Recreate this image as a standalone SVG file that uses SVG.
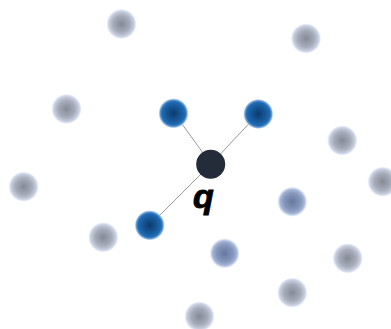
<svg xmlns="http://www.w3.org/2000/svg" width="391" height="329" viewBox="0 0 391 329">
<defs>
<radialGradient id="gGray" cx="50%" cy="50%" r="50%">
<stop offset="0" stop-color="#858a96"/>
<stop offset="0.55" stop-color="#a5abb9"/>
<stop offset="0.8" stop-color="#c3c9d7"/>
<stop offset="0.9" stop-color="#d3dcf0"/>
<stop offset="1" stop-color="#eaf0fa" stop-opacity="0.4"/>
</radialGradient>
<radialGradient id="gBlueGray" cx="50%" cy="50%" r="50%">
<stop offset="0" stop-color="#66789c"/>
<stop offset="0.55" stop-color="#8496bc"/>
<stop offset="0.8" stop-color="#a3b3d3"/>
<stop offset="0.9" stop-color="#ccd8ee"/>
<stop offset="1" stop-color="#eef2fa" stop-opacity="0.4"/>
</radialGradient>
<radialGradient id="gBlue" cx="50%" cy="50%" r="50%">
<stop offset="0" stop-color="#0c3b6a"/>
<stop offset="0.5" stop-color="#16589a"/>
<stop offset="0.78" stop-color="#1f6cb4"/>
<stop offset="0.9" stop-color="#6a9fd6"/>
<stop offset="1" stop-color="#d4e4f5" stop-opacity="0.4"/>
</radialGradient>
<style>
.gray{fill:url(#gGray)}
.bg{fill:url(#gBlueGray)}
.blue{fill:url(#gBlue)}
.q{fill:#252c39}
.edge{stroke:#999999;stroke-width:1;fill:none}
.lbl{font-family:"Liberation Sans",Arial,sans-serif;font-weight:bold;font-style:italic;font-size:34px;fill:#000;stroke:#000;stroke-width:0.9}
</style>
</defs>
<rect width="391" height="329" fill="#ffffff"/>
<g id="connectors">
<line class="edge" x1="174" y1="113" x2="211" y2="164"/>
<line class="edge" x1="258" y1="114" x2="211" y2="164"/>
<line class="edge" x1="150" y1="225" x2="211" y2="164"/>
</g>
<g id="n1"><circle class="gray" cx="121.5" cy="24" r="15"/></g>
<g id="n2"><circle class="gray" cx="306" cy="38.5" r="15"/></g>
<g id="n3"><circle class="gray" cx="66.5" cy="109" r="15"/></g>
<g id="n4"><circle class="blue" cx="173.5" cy="113.3" r="15"/></g>
<g id="n5"><circle class="blue" cx="258.3" cy="114" r="15"/></g>
<g id="n6"><circle class="gray" cx="342.3" cy="140.5" r="15"/></g>
<g id="nq"><circle class="q" cx="210.7" cy="164.3" r="14.5"/><text class="lbl" x="193" y="208">q</text></g>
<g id="n7"><circle class="gray" cx="23.7" cy="186.7" r="15"/></g>
<g id="n8"><circle class="gray" cx="382.7" cy="181.7" r="15"/></g>
<g id="n9"><circle class="bg" cx="292.3" cy="201.7" r="15"/></g>
<g id="n10"><circle class="blue" cx="149.7" cy="225.3" r="15"/></g>
<g id="n11"><circle class="gray" cx="103.3" cy="237.3" r="15"/></g>
<g id="n12"><circle class="bg" cx="224.7" cy="253.3" r="15"/></g>
<g id="n13"><circle class="gray" cx="347.7" cy="258.3" r="15"/></g>
<g id="n14"><circle class="gray" cx="292.3" cy="292.7" r="15"/></g>
<g id="n15"><circle class="gray" cx="199.5" cy="316.5" r="15"/></g>
</svg>
